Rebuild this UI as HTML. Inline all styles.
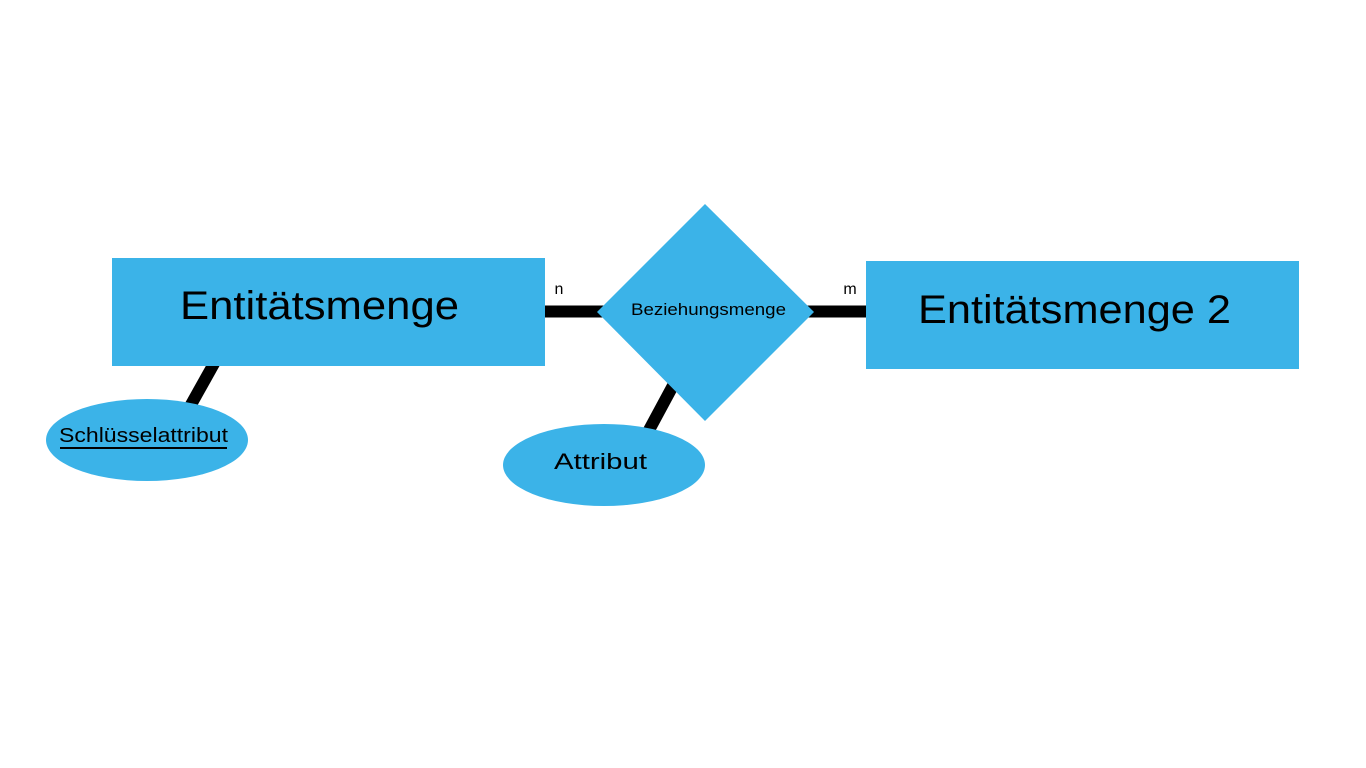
<!DOCTYPE html>
<html><head><meta charset="utf-8"><style>
html,body{margin:0;padding:0;background:#fff;}
svg{display:block;}
text{font-family:"Liberation Sans",sans-serif;fill:#000;}
</style></head><body>
<svg width="1366" height="768" viewBox="0 0 1366 768" xmlns="http://www.w3.org/2000/svg">
<rect width="1366" height="768" fill="#fff"/>
<line x1="540" y1="311.5" x2="610" y2="311.5" stroke="#000" stroke-width="12"/>
<line x1="800" y1="311.5" x2="870" y2="311.5" stroke="#000" stroke-width="12"/>
<line x1="216" y1="360" x2="188" y2="410" stroke="#000" stroke-width="12"/>
<line x1="676" y1="380" x2="648" y2="432" stroke="#000" stroke-width="12"/>
<rect x="112" y="258" width="433" height="108" fill="#3bb3e8"/>
<rect x="866" y="261" width="433" height="108" fill="#3bb3e8"/>
<polygon points="705,204 814,312 705,421 597,312" fill="#3bb3e8"/>
<ellipse cx="147" cy="440" rx="101" ry="41" fill="#3bb3e8"/>
<ellipse cx="604" cy="465" rx="101" ry="41" fill="#3bb3e8"/>
<text x="180" y="319" font-size="40" textLength="279" lengthAdjust="spacingAndGlyphs">Entitätsmenge</text>
<text x="918" y="323" font-size="40" textLength="313" lengthAdjust="spacingAndGlyphs">Entitätsmenge 2</text>
<text x="631" y="315" font-size="17" textLength="155" lengthAdjust="spacingAndGlyphs">Beziehungsmenge</text>
<text x="59" y="442" font-size="20" textLength="169" lengthAdjust="spacingAndGlyphs">Schlüsselattribut</text>
<line x1="60" y1="448" x2="227" y2="448" stroke="#000" stroke-width="2"/>
<text x="554" y="469" font-size="22" textLength="93" lengthAdjust="spacingAndGlyphs">Attribut</text>
<text x="559" y="294" font-size="16" text-anchor="middle">n</text>
<text x="850" y="294" font-size="16" text-anchor="middle">m</text>
</svg>
</body></html>
